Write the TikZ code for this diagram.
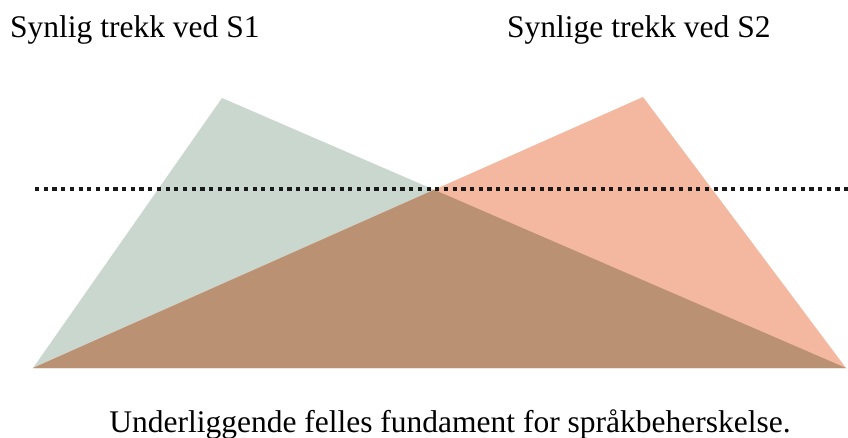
\documentclass[tikz,border=0pt]{standalone}
\usepackage{fontspec}
\setmainfont{Liberation Serif}
\begin{document}
\begin{tikzpicture}[x=1pt,y=-1pt,
  lbl/.style={inner sep=0pt, anchor=base west, font=\fontsize{31.5}{36}\selectfont},
  lblc/.style={inner sep=0pt, anchor=base, font=\fontsize{31.5}{36}\selectfont},
  dotline/.style={line width=3.3pt, dash pattern=on 4.2pt off 4.5pt, draw=black!90}]
\definecolor{sgreen}{HTML}{CAD7CF}
\definecolor{ssalmon}{HTML}{F4B8A0}
\definecolor{sbrown}{HTML}{BA9273}
\useasboundingbox (0,0) rectangle (848,438);
\coordinate (L) at (33,368);
\coordinate (R) at (846,368);
\coordinate (A1) at (222,98);
\coordinate (A2) at (643,97);
\coordinate (X) at (intersection of A1--R and A2--L);
\fill[sgreen] (L) -- (A1) -- (R) -- cycle;
\fill[ssalmon] (L) -- (A2) -- (R) -- cycle;
\fill[sbrown] (L) -- (X) -- (R) -- cycle;
\coordinate (D1) at (35,189);
\coordinate (D2) at (848,189);
\draw[dotline] (D1) -- (D2);
\node[lbl] (s1) at (10,38) {Synlig trekk ved S1};
\node[lbl] (s2) at (507,38) {Synlige trekk ved S2};
\node[lblc] (base) at (450,432) {Underliggende felles fundament for språkbeherskelse.};
\end{tikzpicture}
\end{document}
